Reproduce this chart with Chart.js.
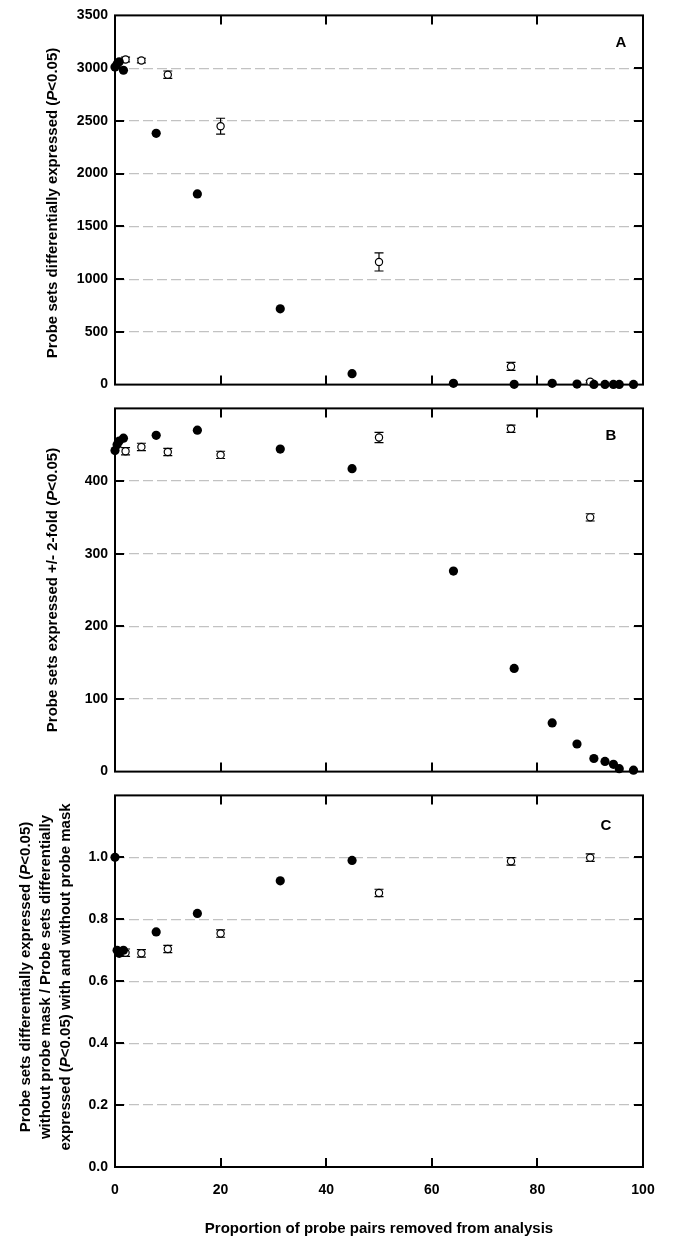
<!DOCTYPE html>
<html lang="en">
<head>
  <meta charset="UTF-8">
  <title>Probe mask - proportion of probe pairs removed</title>
  <style>
    body { margin:0; padding:0; background:#fff; font-family:'Liberation Sans', Arial, sans-serif; }
    #wrap { position:relative; width:685px; height:1242px; overflow:hidden; background:#fff; }
    canvas { position:absolute; left:0; }
    .ytitle { position:absolute; width:400px; font-weight:bold; font-size:15px; line-height:20px; color:#000;
              text-align:center; white-space:nowrap; transform:rotate(-90deg); }
    #xtitle { position:absolute; left:115px; width:528px; top:1218px; line-height:20px; text-align:center;
              font-weight:bold; font-size:15px; color:#000; }
  </style>
</head>
<body>
  <div id="wrap">
    <canvas id="chartA" width="685" height="400" style="top:0px"></canvas>
    <canvas id="chartB" width="685" height="394" style="top:393px"></canvas>
    <canvas id="chartC" width="685" height="462" style="top:780px"></canvas>

    <div class="ytitle" style="left:-148px; top:193px;">Probe sets differentially expressed (<i>P</i>&lt;0.05)</div>
    <div class="ytitle" style="left:-148px; top:580px;">Probe sets expressed +/- 2-fold (<i>P</i>&lt;0.05)</div>
    <div class="ytitle" style="left:-155px; top:947px; height:60px;">Probe sets differentially expressed (<i>P</i>&lt;0.05)<br>without probe mask / Probe sets differentially<br>expressed (<i>P</i>&lt;0.05) with and without probe mask</div>
    <div id="xtitle">Proportion of probe pairs removed from analysis</div>
  </div>

  <script src="https://cdn.jsdelivr.net/npm/chart.js"></script>
  <script>
    // x positions (% of probe pairs removed)
    const filledX = [0, 0.4, 0.8, 1.6, 7.8, 15.6, 31.3, 44.9, 64.1, 75.6, 82.8, 87.5, 90.7, 92.8, 94.4, 95.5, 98.2];
    const openX   = [2, 5, 10, 20, 50, 75, 90];
    const xTicks  = [0, 20, 40, 60, 80, 100];

    // panel A: probe sets differentially expressed
    const aFilled  = [3010, 3040, 3060, 2980, 2382, 1808, 718, 104, 12, 3, 12, 5, 2, 2, 2, 2, 2];
    const aOpen    = [3082, 3072, 2938, 2450, 1163, 172, 28];
    const aOpenErr = [22, 22, 35, 75, 86, 38, 12];

    // panel B: probe sets expressed +/- 2-fold
    const bFilled  = [442, 450, 455, 459, 463, 470, 444, 417, 276, 142, 67, 38, 18, 14, 10, 4, 2];
    const bOpen    = [441, 447, 440, 436, 460, 472, 350];
    const bOpenErr = [5, 5, 5, 5, 7, 5, 5];

    // panel C: ratio (only defined for the first filled points)
    const cFilledX = filledX.slice(0, 8);
    const cFilled  = [1.0, 0.70, 0.69, 0.70, 0.759, 0.819, 0.924, 0.990];
    const cOpen    = [0.692, 0.69, 0.704, 0.754, 0.885, 0.987, 0.999];
    const cOpenErr = [0.012, 0.012, 0.012, 0.012, 0.012, 0.012, 0.012];

    Chart.defaults.font.family = "'Liberation Sans', Arial, sans-serif";
    Chart.defaults.color = '#000';

    const pts = (xs, ys) => ys.map((v, i) => ({ x: xs[i], y: v }));

    // frame, inward ticks, error bars and panel letter
    const framePlugin = {
      id: 'frame',
      beforeDatasetsDraw(chart, args, opts) {
        const { ctx, chartArea: a, scales: { x, y } } = chart;
        ctx.save();
        ctx.strokeStyle = '#000';
        ctx.lineWidth = 2;
        ctx.beginPath();
        x.ticks.forEach(t => {
          if (t.value <= x.min || t.value >= x.max) return;
          const px = Math.round(x.getPixelForValue(t.value));
          ctx.moveTo(px, a.bottom); ctx.lineTo(px, a.bottom - 9);
          ctx.moveTo(px, a.top);    ctx.lineTo(px, a.top + 9);
        });
        y.ticks.forEach(t => {
          if (t.value <= y.min || t.value >= y.max - 1e-9) return;
          const py = Math.round(y.getPixelForValue(t.value));
          ctx.moveTo(a.left, py);  ctx.lineTo(a.left + 9, py);
          ctx.moveTo(a.right, py); ctx.lineTo(a.right - 9, py);
        });
        ctx.stroke();
        ctx.strokeRect(a.left, a.top, a.width, a.height);

        // error bars (behind the markers)
        ctx.lineWidth = 1.2;
        chart.data.datasets.forEach((ds, i) => {
          if (!ds.errors) return;
          const meta = chart.getDatasetMeta(i);
          meta.data.forEach((el, j) => {
            const v = ds.data[j].y, e = ds.errors[j];
            const top = y.getPixelForValue(v + e), bot = y.getPixelForValue(v - e);
            ctx.beginPath();
            ctx.moveTo(el.x, top); ctx.lineTo(el.x, bot);
            ctx.moveTo(el.x - 4.5, top); ctx.lineTo(el.x + 4.5, top);
            ctx.moveTo(el.x - 4.5, bot); ctx.lineTo(el.x + 4.5, bot);
            ctx.stroke();
          });
        });

        ctx.fillStyle = '#000';
        ctx.font = "bold 15px 'Liberation Sans', Arial, sans-serif";
        ctx.textAlign = 'center';
        ctx.textBaseline = 'middle';
        ctx.fillText(opts.letter, a.right + opts.dx, a.top + opts.dy);
        ctx.restore();
      }
    };

    function makePanel(id, p) {
      const ctx = document.getElementById(id).getContext('2d');
      return new Chart(ctx, {
        type: 'scatter',
        data: {
          datasets: [
            { label: 'without mask', data: pts(p.fx, p.fy), pointRadius: 4.6, pointHoverRadius: 4.6,
              backgroundColor: '#000', borderColor: '#000', borderWidth: 0, clip: false },
            { label: 'with mask', data: pts(openX, p.oy), errors: p.err, pointRadius: 3.6, pointHoverRadius: 3.6,
              backgroundColor: '#fff', borderColor: '#000', borderWidth: 1.2, clip: false }
          ]
        },
        options: {
          responsive: false,
          animation: false,
          events: [],
          layout: { padding: { top: p.padTop, right: 42, bottom: p.padBottom, left: 0 } },
          plugins: {
            legend: { display: false },
            tooltip: { enabled: false },
            frame: { letter: p.letter, dx: p.ldx, dy: p.ldy }
          },
          scales: {
            x: {
              type: 'linear', min: 0, max: 100,
              afterBuildTicks: s => { s.ticks = xTicks.map(v => ({ value: v })); },
              ticks: { display: p.xLabels, padding: 15, maxRotation: 0,
                       font: { size: 14, weight: 'bold' }, callback: v => String(v) },
              grid: { display: false, drawTicks: false },
              border: { display: false },
              afterFit: s => { s.height = p.xHeight; }
            },
            y: {
              type: 'linear', min: 0, max: p.yMax,
              ticks: { stepSize: p.yStep, padding: 7, font: { size: 14, weight: 'bold' },
                       callback: v => (p.hideTop && Math.abs(v - p.yMax) < 1e-9) ? '' : p.fmt(v) },
              grid: { drawTicks: false, lineWidth: 1.2,
                      color: c => (c.tick.value <= 0 || c.tick.value >= p.yMax - 1e-9) ? 'rgba(0,0,0,0)' : '#c2c2c2' },
              border: { display: false, dash: [10, 4] },
              afterFit: s => { s.width = 115; }
            }
          }
        },
        plugins: [framePlugin]
      });
    }

    makePanel('chartA', { fx: filledX, fy: aFilled, oy: aOpen, err: aOpenErr, yMax: 3500, yStep: 500,
      hideTop: false, fmt: v => String(Math.round(v)), padTop: 13, padBottom: 7, xLabels: false, xHeight: 0,
      letter: 'A', ldx: -22, ldy: 27 });

    makePanel('chartB', { fx: filledX, fy: bFilled, oy: bOpen, err: bOpenErr, yMax: 500, yStep: 100,
      hideTop: true, fmt: v => String(Math.round(v)), padTop: 7, padBottom: 7, xLabels: false, xHeight: 0,
      letter: 'B', ldx: -32, ldy: 27 });

    makePanel('chartC', { fx: cFilledX, fy: cFilled, oy: cOpen, err: cOpenErr, yMax: 1.2, yStep: 0.2,
      hideTop: true, fmt: v => v.toFixed(1), padTop: 7, padBottom: 0, xLabels: true, xHeight: 75,
      letter: 'C', ldx: -37, ldy: 30 });
  </script>
</body>
</html>
